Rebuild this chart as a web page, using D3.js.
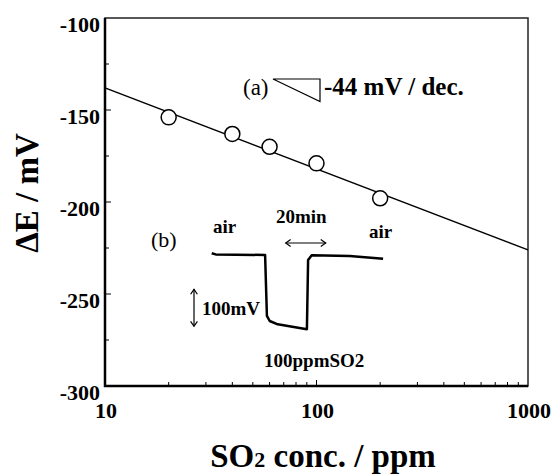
<!DOCTYPE html>
<html>
<head>
  <meta charset="utf-8">
  <script src="https://d3js.org/d3.v7.min.js"></script>
  <style>
    body { margin: 0; background: #fff; }
    svg text { font-family: "Liberation Serif", "DejaVu Serif", "Times New Roman", serif; fill: #000; }
  </style>
</head>
<body>
  <svg width="553" height="474"></svg>

  <script>
    // SO2 concentration (ppm) and measured potential (mV)
    var conc = [20, 40, 60, 100, 200];
    var deltaE = [-154, -163, -170, -179, -198];

    // fitted line: -44 mV / decade
    var fitConc = [10, 1000];
    var fitE = [-138, -226];

    // tick labels
    var xTickValues = [10, 100, 1000];
    var yTickValues = [-300, -250, -200, -150, -100];

    // inset (b): response transient, minutes vs mV
    var insetTime = [0, 2, 26.7, 27.6, 29, 33, 47.6, 48.2, 50, 69, 85.7];
    var insetMV = [0, -3, -4.6, -169, -183, -192, -205, -18, -5, -7, -15];

    var svg = d3.select("svg")
      .attr("font-family", "'Liberation Serif', 'DejaVu Serif', serif");
    var pL = 105, pR = 528, pT = 18, pB = 386;

    var x = d3.scaleLog().domain([10, 1000]).range([pL, pR]);
    var y = d3.scaleLinear().domain([-300, -100]).range([pB, pT]);

    // minor ticks
    var xMinor = [];
    [10, 100].forEach(function(dec) {
      for (var k = 2; k <= 9; k++) xMinor.push(dec * k);
    });
    svg.selectAll(".xminor")
      .data(xMinor)
      .enter().append("line")
      .attr("x1", d => x(d)).attr("x2", d => x(d))
      .attr("y1", pB).attr("y2", pB - 4)
      .attr("stroke", "black").attr("stroke-width", 1);

    svg.append("line")
      .attr("x1", x(100)).attr("x2", x(100))
      .attr("y1", pB).attr("y2", pB - 6)
      .attr("stroke", "black").attr("stroke-width", 1);

    var yTicks = d3.range(-275, -100, 25);
    svg.selectAll(".ytick")
      .data(yTicks)
      .enter().append("line")
      .attr("x1", pL).attr("x2", d => pL + (d % 50 === 0 ? 6 : 4))
      .attr("y1", d => y(d)).attr("y2", d => y(d))
      .attr("stroke", "black").attr("stroke-width", 1);

    // frame
    svg.append("rect")
      .attr("x", pL).attr("y", pT)
      .attr("width", pR - pL).attr("height", pB - pT)
      .attr("fill", "none").attr("stroke", "#222").attr("stroke-width", 1.5);
    svg.append("path")
      .attr("d", `M${pL},${pT} V${pB} H${pR}`)
      .attr("fill", "none").attr("stroke", "black").attr("stroke-width", 2.5);

    // tick labels
    svg.selectAll(".ylab")
      .data(yTickValues)
      .enter().append("text")
      .attr("x", pL - 5)
      .attr("y", d => y(d) + 14)
      .attr("text-anchor", "end")
      .attr("font-size", 22).attr("font-weight", "bold")
      .text(d => d);

    svg.selectAll(".xlab")
      .data(xTickValues)
      .enter().append("text")
      .attr("x", d => x(d) + 1)
      .attr("y", 418)
      .attr("text-anchor", "middle")
      .attr("font-size", 22).attr("font-weight", "bold")
      .text(d => d);

    // axis titles
    var xt = svg.append("text")
      .attr("x", 323).attr("y", 467)
      .attr("text-anchor", "middle")
      .attr("font-size", 33).attr("font-weight", "bold");
    xt.append("tspan").text("SO");
    xt.append("tspan").attr("font-size", 22).text("2");
    xt.append("tspan").text(" conc. / ppm");

    svg.append("text")
      .attr("transform", "translate(38,193) rotate(-90)")
      .attr("text-anchor", "middle")
      .attr("font-size", 33).attr("font-weight", "bold")
      .text("\u0394E / mV");

    // fit line
    var line = d3.line().x(d => x(d[0])).y(d => y(d[1]));
    svg.append("path")
      .datum(d3.zip(fitConc, fitE))
      .attr("d", line)
      .attr("fill", "none").attr("stroke", "black").attr("stroke-width", 1.5);

    // data points
    svg.selectAll(".pt")
      .data(d3.zip(conc, deltaE))
      .enter().append("circle")
      .attr("cx", d => x(d[0])).attr("cy", d => y(d[1]))
      .attr("r", 7.5)
      .attr("fill", "white").attr("stroke", "black").attr("stroke-width", 1.5);

    // annotation (a)
    svg.append("text")
      .attr("x", 243).attr("y", 95)
      .attr("font-size", 23)
      .text("(a)");
    svg.append("path")
      .attr("d", "M273,79 H320 V101.5 Z")
      .attr("fill", "none").attr("stroke", "black").attr("stroke-width", 1.2);
    svg.append("text")
      .attr("x", 324).attr("y", 95)
      .attr("font-size", 25).attr("font-weight", "bold")
      .text("-44 mV / dec.");

    // inset (b)
    var tx = d3.scaleLinear().domain([0, 20]).range([211.7, 251.7]);
    var ey = d3.scaleLinear().domain([0, -100]).range([253.3, 290.3]);
    svg.append("path")
      .datum(d3.zip(insetTime, insetMV))
      .attr("d", d3.line().x(d => tx(d[0])).y(d => ey(d[1])))
      .attr("fill", "none").attr("stroke", "black").attr("stroke-width", 2.5)
      .attr("stroke-linejoin", "round");

    svg.append("text").attr("x", 151).attr("y", 247)
      .attr("font-size", 22).text("(b)");
    svg.append("text").attr("x", 213).attr("y", 233)
      .attr("font-size", 19).attr("font-weight", "bold").text("air");
    svg.append("text").attr("x", 369).attr("y", 238)
      .attr("font-size", 19).attr("font-weight", "bold").text("air");
    svg.append("text").attr("x", 276).attr("y", 223)
      .attr("font-size", 19).attr("font-weight", "bold").text("20min");
    svg.append("text").attr("x", 202).attr("y", 315)
      .attr("font-size", 19).attr("font-weight", "bold").text("100mV");
    svg.append("text").attr("x", 264).attr("y", 367)
      .attr("font-size", 19).attr("font-weight", "bold").text("100ppmSO2");

    // double arrows
    function dblArrow(x1, y1, x2, y2) {
      svg.append("line")
        .attr("x1", x1).attr("y1", y1).attr("x2", x2).attr("y2", y2)
        .attr("stroke", "black").attr("stroke-width", 1.2);
      var ang = Math.atan2(y2 - y1, x2 - x1), h = 6, w = 0.6;
      [[x1, y1, ang + Math.PI], [x2, y2, ang]].forEach(function(p) {
        var a1 = p[2] + Math.PI - w, a2 = p[2] + Math.PI + w;
        svg.append("path")
          .attr("d", `M${p[0] + h * Math.cos(a1)},${p[1] + h * Math.sin(a1)} L${p[0]},${p[1]} L${p[0] + h * Math.cos(a2)},${p[1] + h * Math.sin(a2)}`)
          .attr("fill", "none").attr("stroke", "black").attr("stroke-width", 1.2);
      });
    }
    dblArrow(tx(37), 243, tx(57), 243);
    dblArrow(194, ey(0) + 36, 194, ey(-100) + 36);
  </script>
</body>
</html>
